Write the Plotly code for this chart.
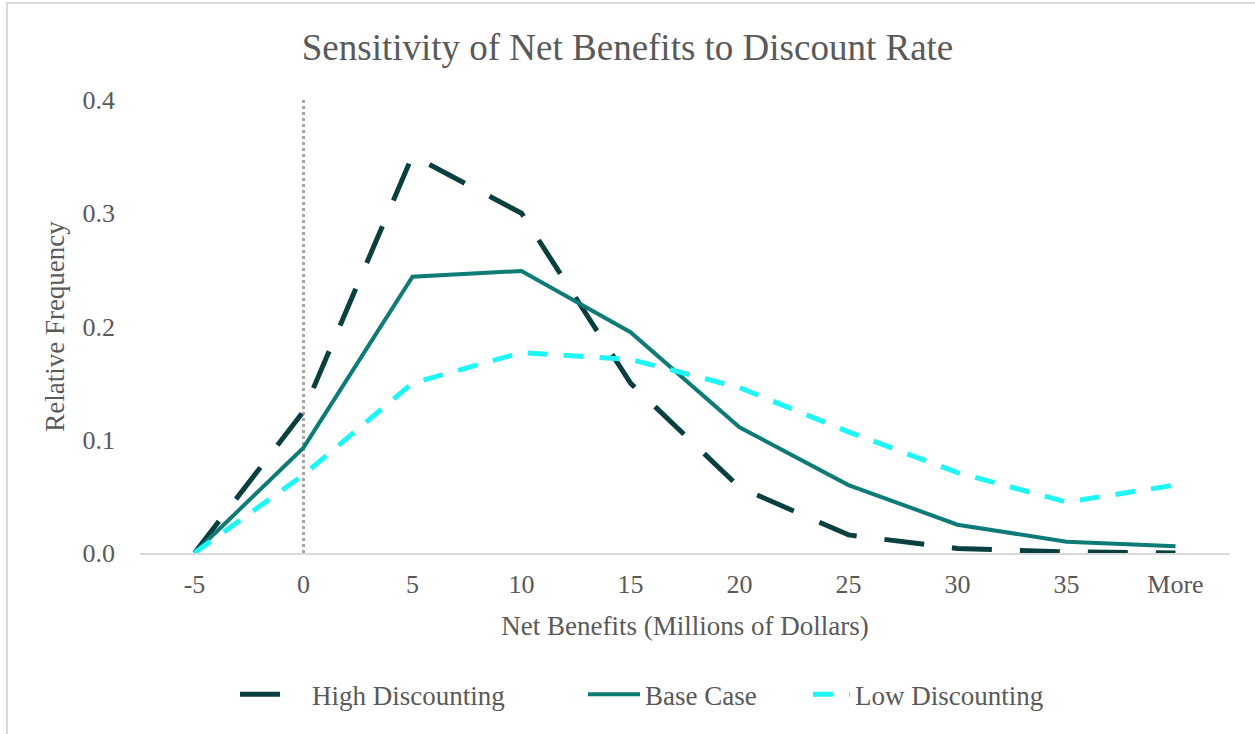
import plotly.graph_objects as go

# Histogram bins (millions of dollars) and relative frequencies per scenario
bins = ["-5", "0", "5", "10", "15", "20", "25", "30", "35", "More"]
high_discounting = [0.0, 0.125, 0.351, 0.300, 0.150, 0.058, 0.016, 0.004, 0.001, 0.0]
base_case = [0.0, 0.093, 0.244, 0.249, 0.195, 0.111, 0.060, 0.025, 0.010, 0.006]
low_discounting = [0.0, 0.069, 0.150, 0.177, 0.171, 0.146, 0.107, 0.071, 0.045, 0.060]

# Break-even marker at zero net benefits
zero_x = ["0", "0"]
zero_y = [0.0, 0.4]

FONT = "Liberation Serif, Times New Roman, serif"
TEXT = "#595959"

fig = go.Figure()

fig.add_trace(go.Scatter(
    x=zero_x, y=zero_y, mode="lines", showlegend=False, hoverinfo="skip",
    line=dict(color="#A6A6A6", width=3, dash="dot"),
))
fig.add_trace(go.Scatter(
    x=bins, y=high_discounting, mode="lines", name="High Discounting", legend="legend",
    line=dict(color="#0A3F3F", width=5, dash="40px,28px"),
))
fig.add_trace(go.Scatter(
    x=bins, y=base_case, mode="lines", name="Base Case", legend="legend2",
    line=dict(color="#0E7B77", width=4),
))
fig.add_trace(go.Scatter(
    x=bins, y=low_discounting, mode="lines", name="Low Discounting", legend="legend3",
    line=dict(color="#1EF5F5", width=5, dash="20px,16px"),
))

# One legend box per series so each key sits where it belongs along the bottom row
legend_common = dict(orientation="h", y=-0.313, yanchor="middle", xanchor="left",
                     font=dict(size=27, color=TEXT), bgcolor="rgba(0,0,0,0)")

fig.update_layout(
    width=1255, height=734,
    margin=dict(l=140, r=25, t=100, b=181),
    paper_bgcolor="white", plot_bgcolor="white",
    font=dict(family=FONT, color=TEXT, size=26),
    title=dict(text="Sensitivity of Net Benefits to Discount Rate",
               x=0.5, xanchor="center", y=0.936, yanchor="middle",
               font=dict(size=37, color=TEXT, family=FONT)),
    xaxis=dict(
        type="category", categoryorder="array", categoryarray=bins,
        range=[-0.5, 9.5],
        showgrid=False, showline=True, linecolor="#D9D9D9", linewidth=1.5,
        ticks="", tickfont=dict(size=26, color=TEXT), ticklabelstandoff=7,
        title=dict(text="Net Benefits (Millions of Dollars)", standoff=18,
                   font=dict(size=27, color=TEXT)),
        zeroline=False,
    ),
    yaxis=dict(
        range=[0, 0.4], tickvals=[0, 0.1, 0.2, 0.3, 0.4], tickformat=".1f",
        showgrid=False, showline=False, zeroline=False, ticks="",
        tickfont=dict(size=26, color=TEXT), ticklabelstandoff=24,
        title=dict(text="Relative Frequency", standoff=10,
                   font=dict(size=27, color=TEXT)),
    ),
    legend=dict(legend_common, x=(235 - 140) / 1090, itemwidth=67),
    legend2=dict(legend_common, x=(583 - 140) / 1090, itemwidth=52),
    legend3=dict(legend_common, x=(808 - 140) / 1090, itemwidth=37),
    shapes=[dict(type="rect", xref="paper", yref="paper",
                 x0=-0.122, x1=1.03, y0=-0.42, y1=1.214,
                 line=dict(color="#D9D9D9", width=2), layer="below")],
)

fig.write_html("out.html")
